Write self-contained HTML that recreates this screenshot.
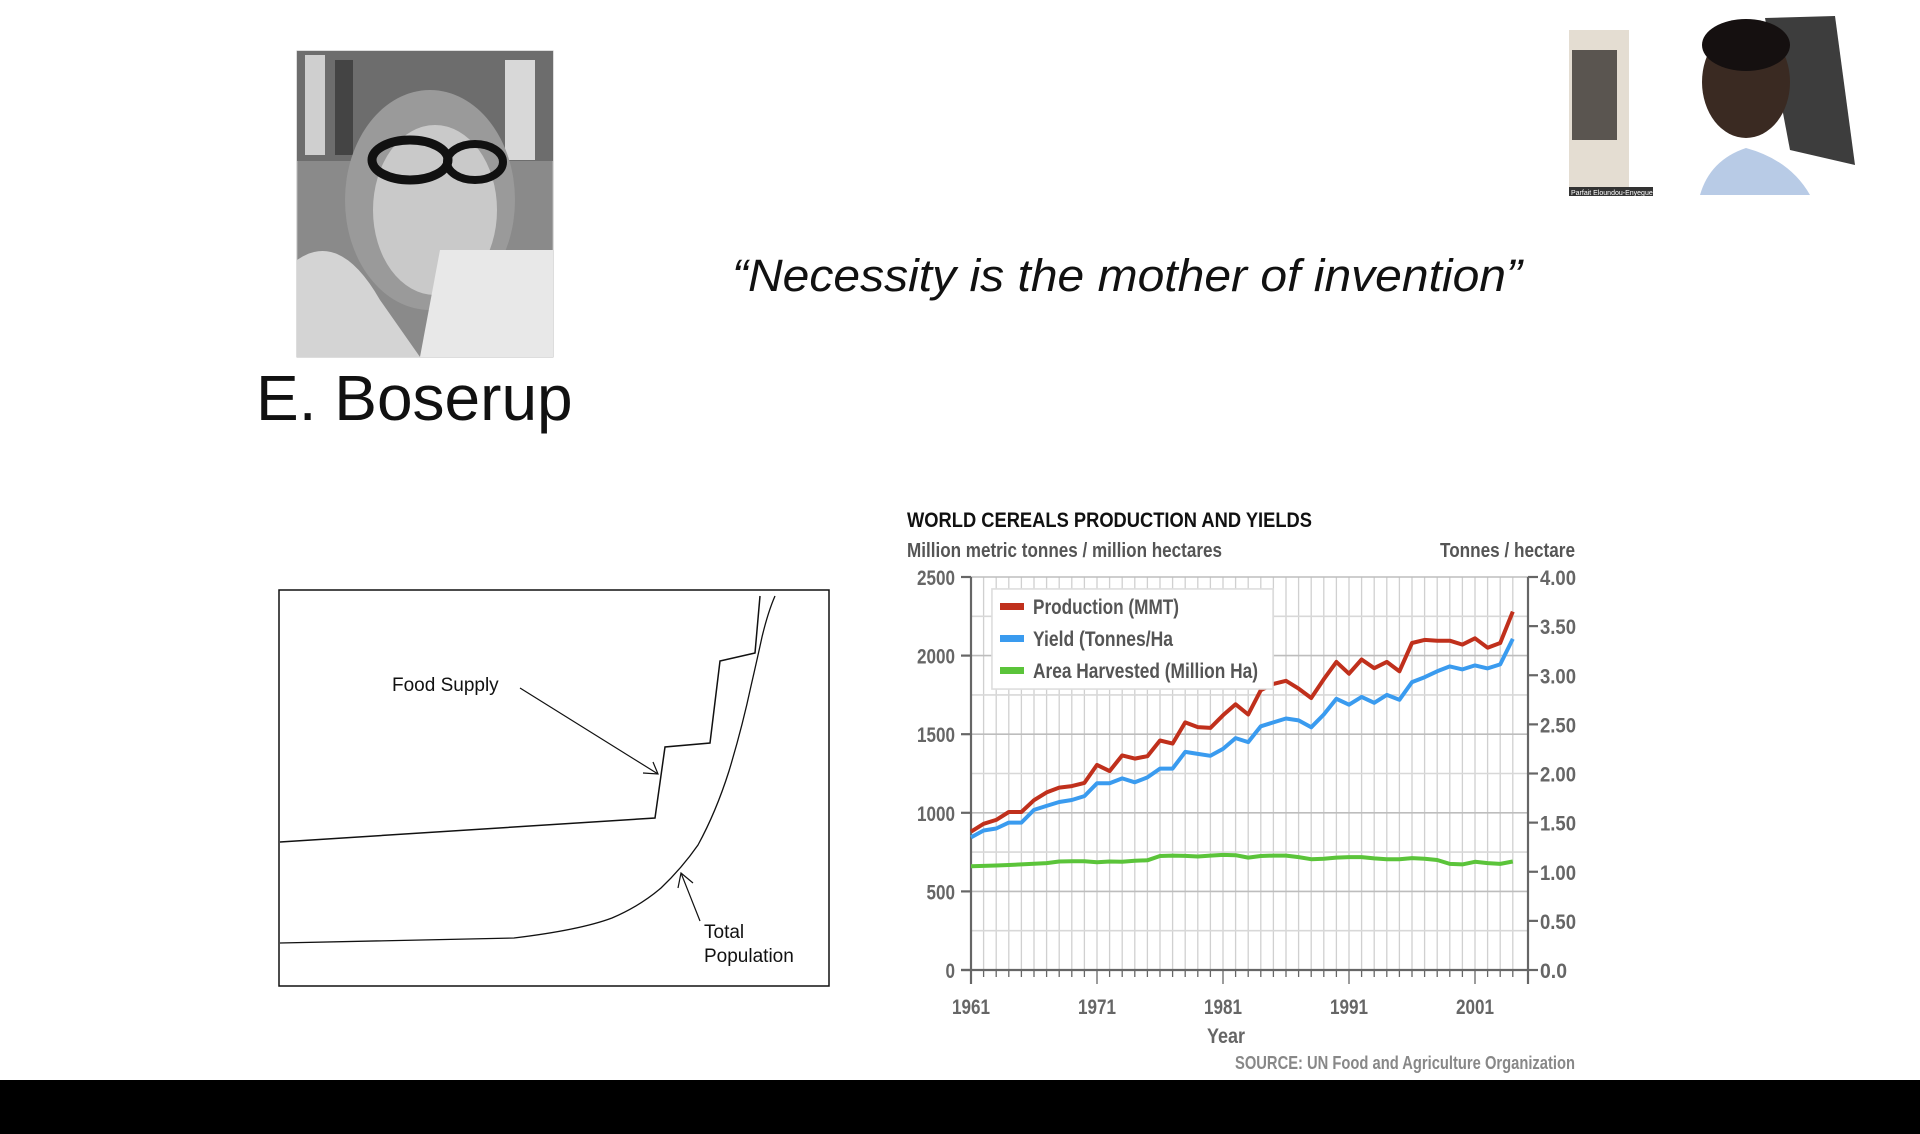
<!DOCTYPE html>
<html><head><meta charset="utf-8">
<style>
html,body{margin:0;padding:0;background:#fff;}
body{width:1920px;height:1134px;overflow:hidden;position:relative;font-family:"Liberation Sans",sans-serif;}
svg{position:absolute;left:0;top:0;}
</style></head>
<body>
<svg id="main" width="1920" height="1134" viewBox="0 0 1920 1134">
  <rect x="0" y="0" width="1920" height="1134" fill="#ffffff"/>
  <g>
    <rect x="297" y="51" width="256" height="306" fill="#8a8a8a" stroke="#bbb"/>
    <rect x="297" y="51" width="256" height="110" fill="#6d6d6d"/>
    <rect x="305" y="55" width="20" height="100" fill="#cfcfcf"/>
    <rect x="335" y="60" width="18" height="95" fill="#444"/>
    <rect x="505" y="60" width="30" height="100" fill="#d8d8d8"/>
    <ellipse cx="430" cy="200" rx="85" ry="110" fill="#9a9a9a"/>
    <ellipse cx="435" cy="210" rx="62" ry="85" fill="#c9c9c9"/>
    <ellipse cx="410" cy="160" rx="38" ry="20" fill="none" stroke="#111" stroke-width="9"/>
    <ellipse cx="475" cy="162" rx="28" ry="18" fill="none" stroke="#111" stroke-width="8"/>
    <path d="M440 250 L553 250 L553 357 L420 357 Z" fill="#e8e8e8"/>
    <path d="M297 260 Q340 230 380 300 L420 357 L297 357 Z" fill="#d4d4d4"/>
  </g>
  <text x="256" y="420" font-size="64" fill="#111">E. Boserup</text>
  <text x="732" y="291" font-size="45" font-style="italic" fill="#111" textLength="790" lengthAdjust="spacingAndGlyphs">“Necessity is the mother of invention”</text>

  <g>
    <rect x="1569" y="30" width="60" height="160" fill="#e4ddd2"/>
    <rect x="1572" y="50" width="45" height="90" fill="#5a5550"/>
    <path d="M1765 18 L1835 16 L1855 165 L1790 150 Z" fill="#3d3d3d"/>
    <ellipse cx="1746" cy="82" rx="44" ry="56" fill="#3a2a22"/>
    <ellipse cx="1746" cy="45" rx="44" ry="26" fill="#151010"/>
    <path d="M1700 195 Q1710 160 1746 148 Q1790 160 1810 195 Z" fill="#b8cbe6"/>
    <rect x="1569" y="187" width="84" height="9" fill="#333"/>
    <text x="1571" y="195" font-size="7" fill="#fff">Parfait Eloundou-Enyegue</text>
  </g>

  <g>
    <rect x="279" y="590" width="550" height="396" fill="#fff" stroke="#111" stroke-width="1.5"/>
    <polyline fill="none" stroke="#111" stroke-width="1.5"
      points="280,842 655,818 665,747 710,743 720,661 755,653 760,596"/>
    <path fill="none" stroke="#111" stroke-width="1.3"
      d="M280,943 L514,938 Q580,930 612,918 Q640,906 661,888 Q682,868 698,845 Q716,812 729,771 Q742,728 751,686 Q757,660 762,637 Q768,612 775,596"/>
    <text x="392" y="691" font-size="19" fill="#111">Food Supply</text>
    <line x1="520" y1="688" x2="658" y2="774" stroke="#111" stroke-width="1.2"/>
    <polyline points="643,773 658,774 653,762" fill="none" stroke="#111" stroke-width="1.2"/>
    <text x="704" y="938" font-size="19" fill="#111">Total</text>
    <text x="704" y="962" font-size="19" fill="#111">Population</text>
    <line x1="700" y1="921" x2="681" y2="873" stroke="#111" stroke-width="1.2"/>
    <polyline points="678,888 681,873 693,883" fill="none" stroke="#111" stroke-width="1.2"/>
  </g>

  <g id="chart"></g>
  <rect x="0" y="1080" width="1920" height="54" fill="#000"/>
</svg>
<script>
const years = [1961,1962,1963,1964,1965,1966,1967,1968,1969,1970,1971,1972,1973,1974,1975,1976,1977,1978,1979,1980,1981,1982,1983,1984,1985,1986,1987,1988,1989,1990,1991,1992,1993,1994,1995,1996,1997,1998,1999,2000,2001,2002,2003,2004];
const production = [880,930,955,1005,1005,1080,1130,1160,1170,1190,1305,1265,1365,1345,1360,1460,1440,1575,1545,1540,1620,1690,1625,1780,1820,1840,1790,1730,1850,1960,1885,1975,1920,1960,1900,2080,2100,2095,2095,2070,2110,2050,2080,2280];
const yieldT = [1.35,1.42,1.44,1.50,1.50,1.63,1.67,1.71,1.73,1.77,1.90,1.90,1.95,1.91,1.96,2.05,2.05,2.22,2.20,2.18,2.25,2.36,2.32,2.48,2.52,2.56,2.54,2.47,2.60,2.76,2.70,2.78,2.72,2.80,2.75,2.93,2.98,3.04,3.09,3.06,3.10,3.07,3.11,3.37];
const area = [660,662,665,668,672,676,680,690,692,692,685,690,688,695,698,725,728,726,722,728,732,730,715,725,728,728,718,705,708,715,718,718,710,705,705,712,708,700,675,672,688,680,675,690];
const leftTicks = [0,500,1000,1500,2000,2500];
const rightTicks = ["0.0","0.50","1.00","1.50","2.00","2.50","3.00","3.50","4.00"];
const yearTicks = [1961,1971,1981,1991,2001];
const legendLabels = ["Production (MMT)","Yield (Tonnes/Ha","Area Harvested (Million Ha)"];

const NS="http://www.w3.org/2000/svg";
const g=document.getElementById('chart');
const X0=971,X1=1528,Y0=970,Y1=577;
const PX=12.6;
const xs=y=>X0+(y-1961)*PX;
const yl=v=>Y0-v*(Y0-Y1)/2500;
const yr=v=>Y0-v*(Y0-Y1)/4;
function mk(t,a){const e=document.createElementNS(NS,t);for(const k in a)e.setAttribute(k,a[k]);g.appendChild(e);return e;}
const F='"Liberation Sans",sans-serif';
for(let y=1961;y<=2004;y++){const l=mk('line',{x1:xs(y),x2:xs(y),y1:Y1,y2:Y0,stroke:'#d0d0d0','stroke-width':1.3});


const t=mk('line',{x1:xs(y),x2:xs(y),y1:Y0,y2:Y0+(((y-1961)%10===0)?14:7),stroke:'#666','stroke-width':1.3});

}
for(let v=0;v<=2500;v+=250){const l=mk('line',{x1:X0,x2:X1,y1:yl(v),y2:yl(v),stroke:(v%500===0)?'#bdbdbd':'#d8d8d8','stroke-width':1.6});

}
const ax1=mk('line',{x1:X0,x2:X0,y1:Y1,y2:Y0+14,stroke:'#666','stroke-width':2.2});


const ax2=mk('line',{x1:X1,x2:X1,y1:Y1,y2:Y0+14,stroke:'#666','stroke-width':2.2});


const ax3=mk('line',{x1:X0-10,x2:X1,y1:Y0,y2:Y0,stroke:'#666','stroke-width':2.2});


leftTicks.forEach(v=>{const s=String(v);const t=mk('text',{x:X0-16,y:yl(v)+8,'text-anchor':'end','font-size':21,'font-family':F,'font-weight':'bold',fill:'#666',textLength:s.length*9.5,lengthAdjust:'spacingAndGlyphs'});t.textContent=s;


const m=mk('line',{x1:X0-10,x2:X0,y1:yl(v),y2:yl(v),stroke:'#666','stroke-width':2.2});

});
rightTicks.forEach((s,i)=>{const v=i*0.5;const t=mk('text',{x:X1+12,y:yr(v)+8,'font-size':21,'font-family':F,'font-weight':'bold',fill:'#666',textLength:s.length*9,lengthAdjust:'spacingAndGlyphs'});t.textContent=s;


const m=mk('line',{x1:X1,x2:X1+10,y1:yr(v),y2:yr(v),stroke:'#666','stroke-width':2.2});

});
yearTicks.forEach(y=>{const t=mk('text',{x:xs(y)-19,y:Y0+44,'font-size':21,'font-family':F,'font-weight':'bold',fill:'#666',textLength:38,lengthAdjust:'spacingAndGlyphs'});t.textContent=y;

});
function series(vals,fy,col,name){const p=vals.map((v,i)=>xs(years[i]).toFixed(1)+','+fy(v).toFixed(1)).join(' ');
const l=mk('polyline',{points:p,fill:'none',stroke:col,'stroke-width':4,'stroke-linejoin':'round'});

}
const lb=mk('rect',{x:992,y:589,width:281,height:100,fill:'#fff',stroke:'#ddd','stroke-width':1.5});


series(area,yl,'#5bc43a','area-harvested-line');
series(yieldT,yr,'#3a9bef','yield-line');
series(production,yl,'#c0301c','production-line');
const lb2=mk('rect',{x:992,y:589,width:281,height:100,fill:'#fff',stroke:'#ddd','stroke-width':1.5});


const cols=['#c0301c','#3a9bef','#5bc43a'];
const lw=[146,140,225];
legendLabels.forEach((s,i)=>{const yy=606+i*32;
const sw=mk('rect',{x:1000,y:yy-3,width:24,height:7,fill:cols[i]});


const t=mk('text',{x:1033,y:yy+8,'font-size':21,'font-family':F,'font-weight':'bold',fill:'#555',textLength:lw[i],lengthAdjust:'spacingAndGlyphs'});t.textContent=s;

});
const tt=mk('text',{x:907,y:527,'font-size':21,'font-family':F,'font-weight':'bold',fill:'#111',textLength:405,lengthAdjust:'spacingAndGlyphs'});tt.textContent='WORLD CEREALS PRODUCTION AND YIELDS';


const st=mk('text',{x:907,y:557,'font-size':20,'font-family':F,'font-weight':'bold',fill:'#555',textLength:315,lengthAdjust:'spacingAndGlyphs'});st.textContent='Million metric tonnes / million hectares';


const rt=mk('text',{x:1440,y:557,'font-size':20,'font-family':F,'font-weight':'bold',fill:'#555',textLength:135,lengthAdjust:'spacingAndGlyphs'});rt.textContent='Tonnes / hectare';


const xt=mk('text',{x:1226,y:1043,'text-anchor':'middle','font-size':21,'font-family':F,'font-weight':'bold',fill:'#666',textLength:38,lengthAdjust:'spacingAndGlyphs'});xt.textContent='Year';


const so=mk('text',{x:1235,y:1069,'font-size':18,'font-family':F,'font-weight':'bold',fill:'#888',textLength:340,lengthAdjust:'spacingAndGlyphs'});so.textContent='SOURCE: UN Food and Agriculture Organization';


</script>
</body></html>
